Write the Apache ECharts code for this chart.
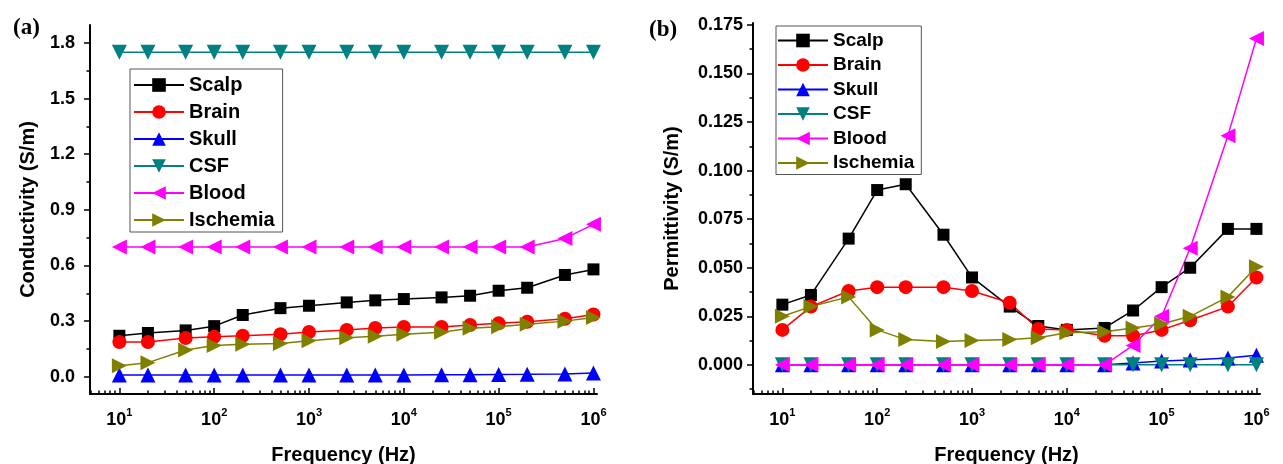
<!DOCTYPE html>
<html>
<head>
<meta charset="utf-8">
<script src="https://cdn.jsdelivr.net/npm/echarts@6/dist/echarts.min.js"></script>
<style>
  html, body { margin: 0; background: #fff; }
  #chart { width: 1283px; height: 464px; }
</style>
</head>
<body>
<div id="chart"></div>
<script>
// frequencies (Hz)
const freq = [10, 20, 50, 100, 200, 500, 1000, 2500, 5000, 1e4, 2.5e4, 5e4, 1e5, 2e5, 5e5, 1e6];
const tissues = ['Scalp', 'Brain', 'Skull', 'CSF', 'Blood', 'Ischemia'];

// (a) conductivity S/m
const condScalp = [0.221, 0.236, 0.25, 0.273, 0.333, 0.37, 0.383, 0.401, 0.412, 0.419, 0.428, 0.437, 0.464, 0.48, 0.549, 0.579];
const condBrain = [0.187, 0.187, 0.209, 0.216, 0.221, 0.229, 0.241, 0.252, 0.263, 0.268, 0.268, 0.279, 0.288, 0.297, 0.313, 0.336];
const condSkull = [0.01, 0.01, 0.01, 0.01, 0.01, 0.01, 0.01, 0.01, 0.01, 0.01, 0.011, 0.011, 0.012, 0.013, 0.015, 0.02];
const condCSF = [1.75, 1.75, 1.75, 1.75, 1.75, 1.75, 1.75, 1.75, 1.75, 1.75, 1.75, 1.75, 1.75, 1.75, 1.75, 1.75];
const condBlood = [0.7, 0.7, 0.7, 0.7, 0.7, 0.7, 0.7, 0.7, 0.7, 0.7, 0.7, 0.7, 0.7, 0.7, 0.746, 0.822];
const condIschemia = [0.059, 0.076, 0.144, 0.169, 0.175, 0.18, 0.194, 0.21, 0.219, 0.229, 0.24, 0.261, 0.27, 0.283, 0.3, 0.32];

// (b) permittivity
const permScalp = [0.031, 0.036, 0.065, 0.09, 0.093, 0.067, 0.045, 0.03, 0.02, 0.018, 0.019, 0.028, 0.04, 0.05, 0.07, 0.07];
const permBrain = [0.018, 0.03, 0.038, 0.04, 0.04, 0.04, 0.038, 0.032, 0.0185, 0.018, 0.015, 0.015, 0.018, 0.023, 0.03, 0.045];
const permSkull = [0, 0, 0, 0, 0, 0, 0, 0, 0, 0, 0, 0.001, 0.002, 0.0025, 0.0035, 0.005];
const permCSF = [0, 0, 0, 0, 0, 0, 0, 0, 0, 0, 0, 0, 0, 0, 0, 0];
const permBlood = [0, 0, 0, 0, 0, 0, 0, 0, 0, 0, 0, 0.01, 0.025, 0.06, 0.118, 0.168];
const permIschemia = [0.025, 0.03, 0.035, 0.018, 0.013, 0.012, 0.0125, 0.013, 0.014, 0.0165, 0.017, 0.019, 0.021, 0.025, 0.035, 0.0505];

// tick labels
const xMajor = [10, 100, 1000, 1e4, 1e5, 1e6];
const condTicks = [0, 0.3, 0.6, 0.9, 1.2, 1.5, 1.8];
const condMinor = [0.15, 0.45, 0.75, 1.05, 1.35, 1.65];
const permTicks = [0, 0.025, 0.05, 0.075, 0.1, 0.125, 0.15, 0.175];
const permMinor = [-0.0125, 0.0125, 0.0375, 0.0625, 0.0875, 0.1125, 0.1375, 0.1625];

// minor log ticks 2..9 per decade
const xMinor = [];
for (let e = 0; e <= 5; e++) {
  for (let k = 2; k <= 9; k++) xMinor.push(k * Math.pow(10, e));
}

const styles = [
  { color: '#000000', symbol: 'rect', rotate: 0, size: 12 },
  { color: '#ff0000', symbol: 'circle', rotate: 0, size: 14 },
  { color: '#0000ff', symbol: 'triangle', rotate: 0, size: 15 },
  { color: '#008080', symbol: 'triangle', rotate: 180, size: 15 },
  { color: '#ff00ff', symbol: 'triangle', rotate: 90, size: 15 },
  { color: '#808000', symbol: 'triangle', rotate: -90, size: 15 }
];

const FONT = 'Liberation Sans, Arial, sans-serif';
const X_MIN = 4.9, X_MAX = 1.09e6;

function xAxes(gridIndex) {
  return [
    {
      type: 'log', gridIndex: gridIndex, min: X_MIN, max: X_MAX, position: 'bottom',
      axisLine: { onZero: false, lineStyle: { color: '#000', width: 2 } },
      axisTick: { inside: true, length: 6, customValues: xMajor, lineStyle: { color: '#000', width: 1.5 } },
      axisLabel: {
        customValues: xMajor, margin: 13, color: '#000',
        formatter: v => '{b|10}{s|' + Math.round(Math.log10(v)) + '}',
        rich: {
          b: { fontFamily: FONT, fontWeight: 'bold', fontSize: 18, color: '#000', lineHeight: 22, verticalAlign: 'bottom' },
          s: { fontFamily: FONT, fontWeight: 'bold', fontSize: 11, color: '#000', lineHeight: 22, verticalAlign: 'top' }
        }
      },
      splitLine: { show: false },
      name: 'Frequency (Hz)', nameLocation: 'middle', nameGap: 51,
      nameTextStyle: { fontFamily: FONT, fontWeight: 'bold', fontSize: 20, color: '#000' }
    },
    {
      type: 'log', gridIndex: gridIndex, min: X_MIN, max: X_MAX, position: 'bottom',
      axisLine: { show: false, onZero: false },
      axisTick: { inside: true, length: 3.5, customValues: xMinor, lineStyle: { color: '#000', width: 1.5 } },
      axisLabel: { show: false },
      splitLine: { show: false }
    }
  ];
}

function yAxes(gridIndex, min, max, ticks, minor, digits, name, gap, margin) {
  return [
    {
      type: 'value', gridIndex: gridIndex, min: min, max: max, position: 'left',
      axisLine: { show: true, onZero: false, lineStyle: { color: '#000', width: 2 } },
      axisTick: { show: true, length: 6, customValues: ticks, lineStyle: { color: '#000', width: 1.5 } },
      axisLabel: {
        customValues: ticks, margin: margin, color: '#000',
        fontFamily: FONT, fontWeight: 'bold', fontSize: 18,
        formatter: v => v.toFixed(digits)
      },
      splitLine: { show: false },
      name: name, nameLocation: 'middle', nameGap: gap, nameRotate: 90,
      nameTextStyle: { fontFamily: FONT, fontWeight: 'bold', fontSize: 20, color: '#000' }
    },
    {
      type: 'value', gridIndex: gridIndex, min: min, max: max, position: 'left',
      axisLine: { show: false, onZero: false },
      axisTick: { show: true, length: 3.5, customValues: minor, lineStyle: { color: '#000', width: 1.5 } },
      axisLabel: { show: false },
      splitLine: { show: false }
    }
  ];
}

function makeSeries(values, axisIndex) {
  return values.map((vals, i) => ({
    name: tissues[i],
    type: 'line',
    xAxisIndex: axisIndex,
    yAxisIndex: axisIndex,
    data: freq.map((f, j) => [f, vals[j]]),
    symbol: styles[i].symbol,
    symbolRotate: styles[i].rotate,
    symbolSize: styles[i].size,
    showSymbol: true,
    itemStyle: { color: styles[i].color },
    lineStyle: { color: styles[i].color, width: 1.5 }
  }));
}

const legendBase = {
  orient: 'vertical',
  itemWidth: 50,
  itemHeight: 17,
  borderColor: '#555',
  borderWidth: 1,
  inactiveColor: '#000',
  textStyle: { fontFamily: FONT, fontWeight: 'bold', fontSize: 20, color: '#000', lineHeight: 22 }
};

const chart = echarts.init(document.getElementById('chart'), null, { renderer: 'canvas' });

const option = {
  animation: false,
  backgroundColor: '#fff',
  title: [
    { text: '(a)', left: 8, top: 12, textStyle: { fontFamily: 'Liberation Serif, Times New Roman, serif', fontWeight: 'bold', fontSize: 23, color: '#000' } },
    { text: '(b)', left: 644, top: 14, textStyle: { fontFamily: 'Liberation Serif, Times New Roman, serif', fontWeight: 'bold', fontSize: 23, color: '#000' } }
  ],
  grid: [
    { left: 90, right: 686, top: 25, bottom: 70, outerBoundsMode: 'none' },
    { left: 753, right: 23, top: 23, bottom: 70, outerBoundsMode: 'none' }
  ],
  legend: [
    Object.assign({}, legendBase, { left: 130, top: 69, itemGap: 5, padding: [5, 8, 1, 3], data: tissues }),
    Object.assign({}, legendBase, { left: 776, top: 26, itemGap: 3.5, padding: [4, 7, 1, 1], data: tissues,
      textStyle: Object.assign({}, legendBase.textStyle, { fontSize: 19, lineHeight: 21 }) })
  ],
  xAxis: xAxes(0).concat(xAxes(1)),
  yAxis: yAxes(0, -0.093, 1.897, condTicks, condMinor, 1, 'Conductivity (S/m)', 52, 15)
    .concat(yAxes(1, -0.015, 0.176, permTicks, permMinor, 3, 'Permittivity (S/m)', 71, 10)),
  series: makeSeries([condScalp, condBrain, condSkull, condCSF, condBlood, condIschemia], 0)
    .concat(makeSeries([permScalp, permBrain, permSkull, permCSF, permBlood, permIschemia], 2))
};

chart.setOption(option);
</script>
</body>
</html>
